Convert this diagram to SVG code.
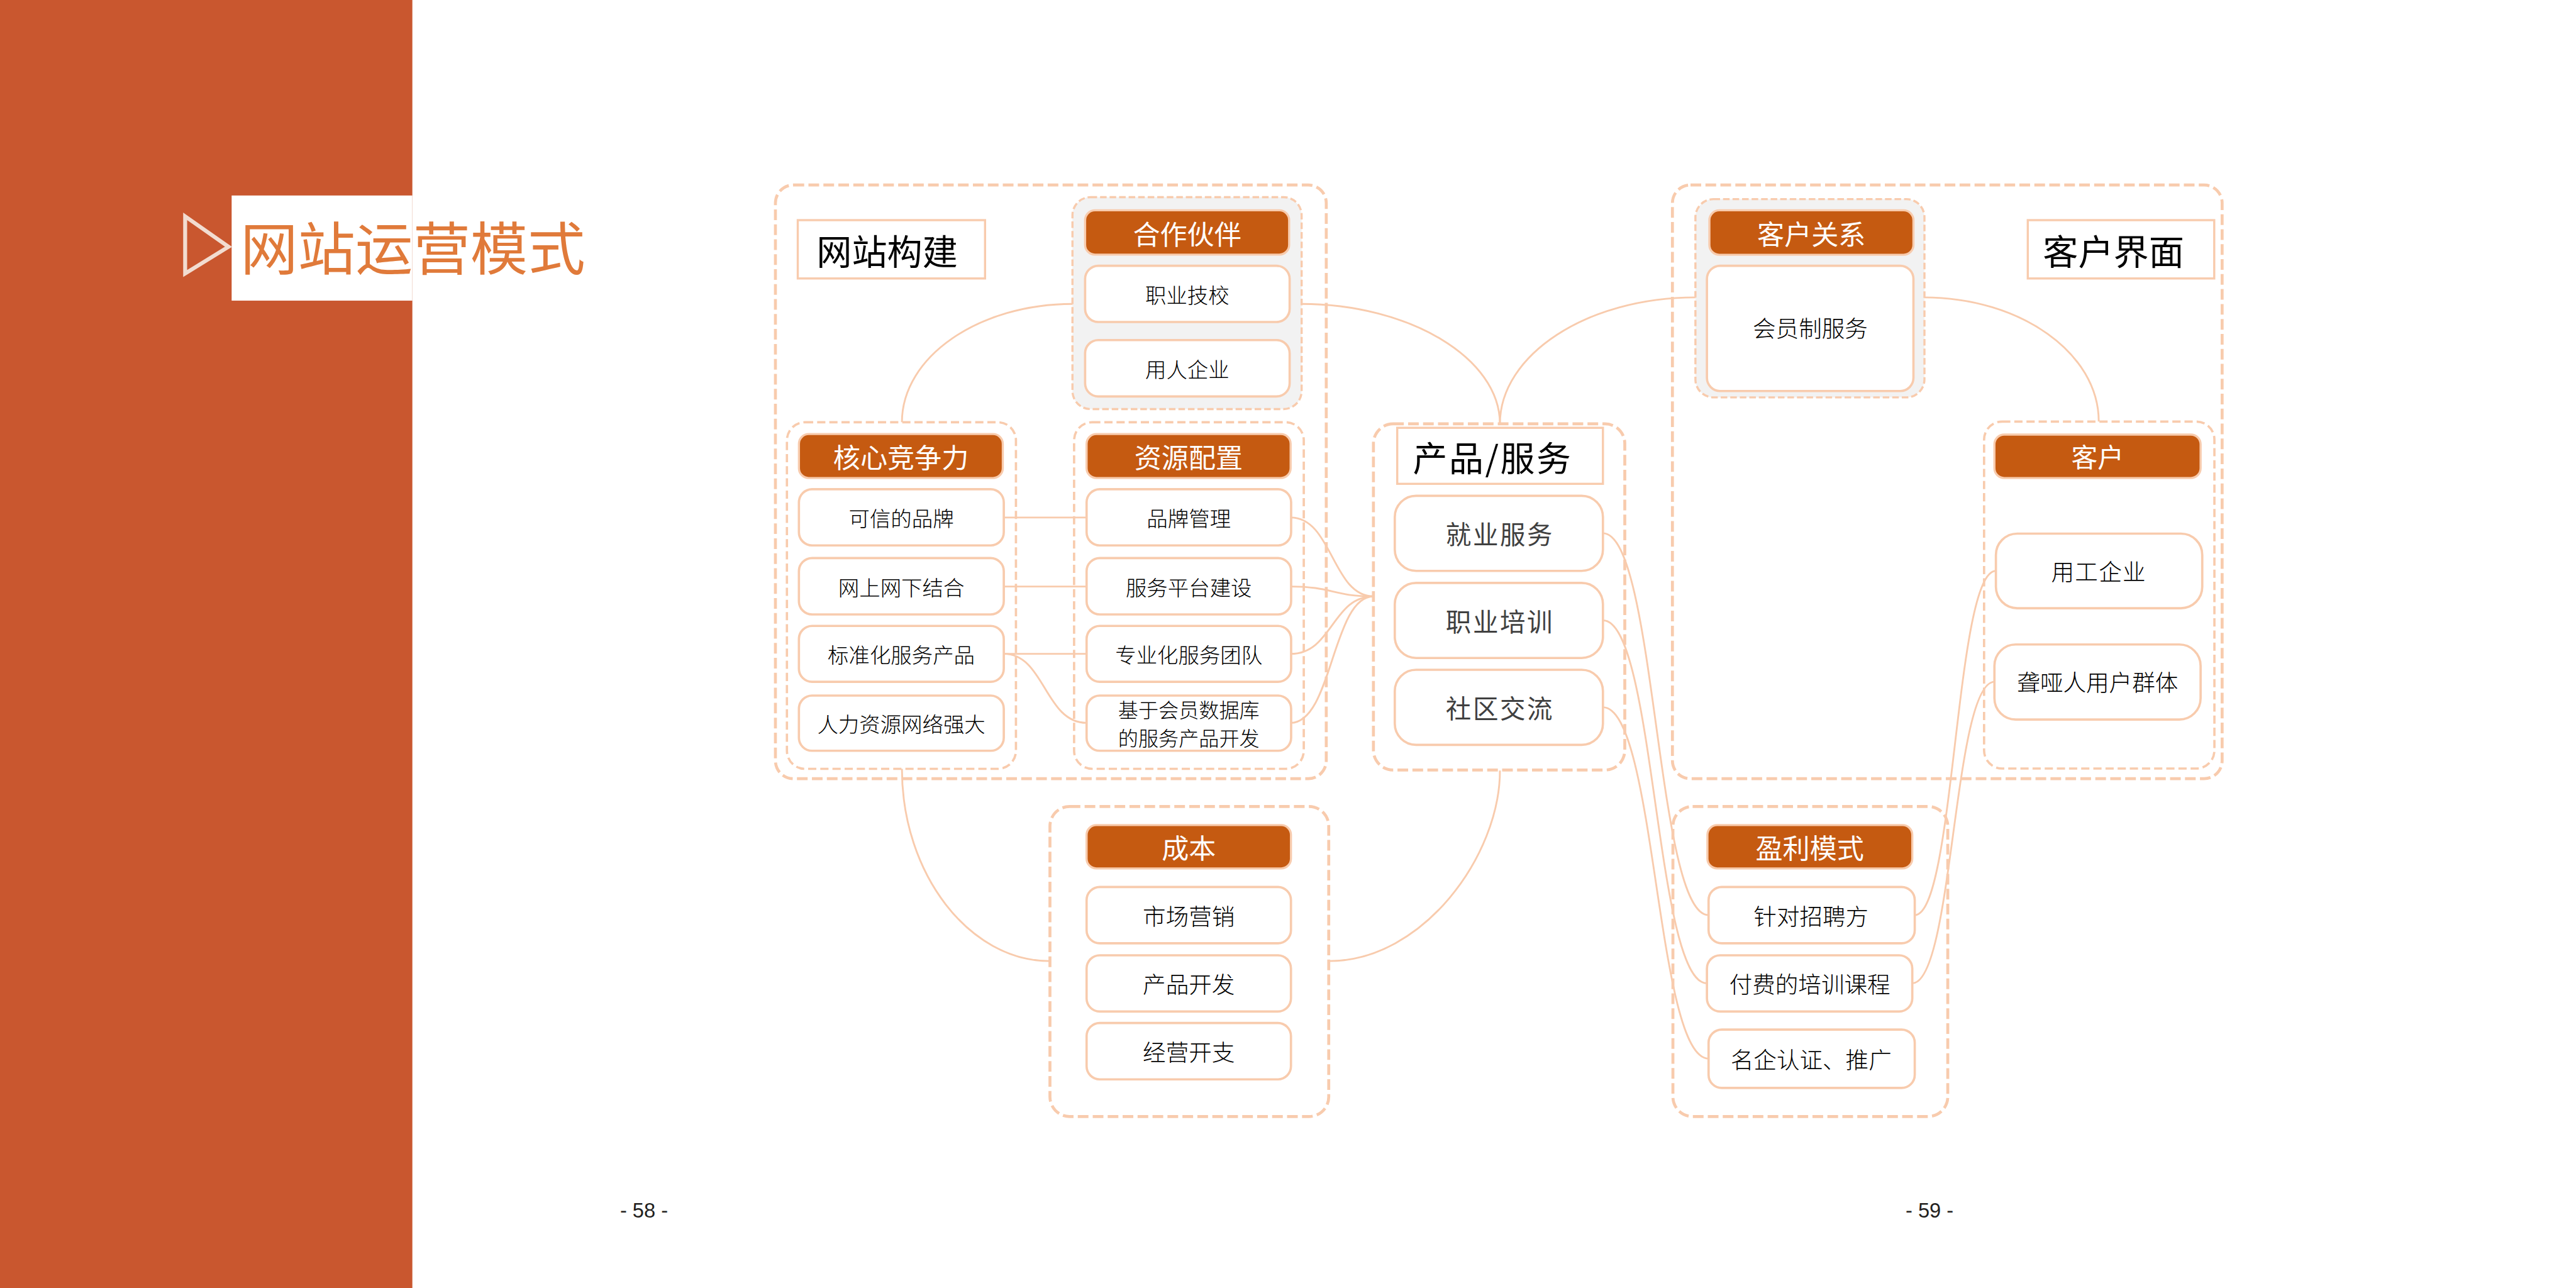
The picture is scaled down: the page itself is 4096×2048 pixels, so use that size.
<svg xmlns="http://www.w3.org/2000/svg" width="4096" height="2048" viewBox="0 0 4096 2048">
<style>
text{font-family:"Noto Sans CJK SC","Noto Sans",sans-serif;}
.outer{fill:none;stroke:#F8CBAD;stroke-width:1.8;stroke-dasharray:6.5 2.6;}
.grp{fill:none;stroke:#F8CBAD;stroke-width:1.4;stroke-dasharray:5 2.4;}
.grpg{fill:#F2F2F2;stroke:#F8CBAD;stroke-width:1.3;stroke-dasharray:4 1.8;}
.hdr{fill:#C55A11;stroke:#F8CBAD;stroke-width:1.3;}
.item{fill:#fff;stroke:#F8CBAD;stroke-width:1.4;}
.lbl{fill:#fff;stroke:#F8CBAD;stroke-width:1.3;}
.conn path{fill:none;stroke:#F8CBAD;stroke-width:1.1;}
.ht{fill:#fff;font-size:16.5px;text-anchor:middle;dominant-baseline:central;}
.it{fill:#000;font-size:12.8px;font-weight:300;text-anchor:middle;dominant-baseline:central;}
.it14{fill:#000;font-size:14px;font-weight:300;text-anchor:middle;dominant-baseline:central;}
.pt{fill:#404040;font-size:15.5px;letter-spacing:1px;text-anchor:middle;dominant-baseline:central;}
.big{fill:#000;font-size:21.5px;dominant-baseline:central;}
.pg{font-family:"Liberation Sans",Arial,sans-serif;fill:#231F20;font-size:12.5px;text-anchor:middle;}
</style>
<rect width="4096" height="2048" fill="#fff"/>
<g transform="scale(2.612245)">
  <g id="sidebar">
    <rect x="0" y="0" width="251" height="784" fill="#C9572F"/>
    <rect x="141" y="119" width="110" height="64" fill="#fff"/>
    <polygon points="112.7,131.7 139.1,150.2 112.7,166.5" fill="none" stroke="#F2DCD0" stroke-width="2.4"/>
    <text x="146.3" y="149" style="font-size:35px;fill:#E07A3A;dominant-baseline:central">网站运营模式</text>
  </g>

  <g id="website-build">
    <rect class="outer" x="472" y="112.6" width="335.3" height="361.4" rx="11"/>
    <rect class="lbl" x="485.6" y="134" width="114" height="35.5"/>
    <text class="big" x="497" y="151.8">网站构建</text>
  </g>
  <g id="customer-interface">
    <rect class="outer" x="1018" y="112.6" width="334.6" height="361.4" rx="11"/>
    <rect class="lbl" x="1234.3" y="134" width="113.5" height="35.5"/>
    <text class="big" x="1243.5" y="151.8">客户界面</text>
  </g>

  <g id="connectors" class="conn">
    <path d="M653,185 C596,185 549,217 549,257"/>
    <path d="M792,185 C858,185 913,218 913,258"/>
    <path d="M1032,181 C966,181 913,216 913,258"/>
    <path d="M1171,181 C1230,181 1277.5,215 1277.5,256.6"/>
    <path d="M549,468 C549,532 590,585 639,585"/>
    <path d="M809,585 C866,585 913,521 913,469"/>
    <path d="M611,315 H661.4"/>
    <path d="M611,357 H661.4"/>
    <path d="M611,398 H661.4"/>
    <path d="M611,398 C636,398 636,440 661.4,440"/>
    <path d="M785.6,315 C811,315 811,363 836,363"/>
    <path d="M785.6,357 C811,357 811,363 836,363"/>
    <path d="M785.6,398 C811,398 811,363 836,363"/>
    <path d="M785.6,440 C811,440 811,363 836,363"/>
    <path d="M975.7,324.6 C1008,324.6 1008,557 1040,557"/>
    <path d="M975.7,377.6 C1007.5,377.6 1007.5,598.5 1039,598.5"/>
    <path d="M975.7,430.5 C1008,430.5 1008,644.4 1040,644.4"/>
    <path d="M1214.9,347.5 C1190,347.5 1190,557 1165.5,557"/>
    <path d="M1214,415 C1189,415 1189,598.5 1164,598.5"/>
  </g>

  <g id="partners">
    <rect class="grpg" x="652.8" y="120" width="139.5" height="129" rx="11"/>
    <rect class="hdr" x="660.5" y="128" width="124.2" height="27" rx="6"/>
    <text class="ht" x="722.6" y="141.5">合作伙伴</text>
    <rect class="item" x="660.5" y="161.8" width="124.5" height="34.2" rx="8"/>
    <text class="it" x="722.7" y="179">职业技校</text>
    <rect class="item" x="660.5" y="207" width="124.5" height="34.3" rx="8"/>
    <text class="it" x="722.7" y="224.2">用人企业</text>
  </g>

  <g id="core-competence">
    <rect class="grp" x="479" y="257" width="139.4" height="211" rx="11"/>
    <rect class="hdr" x="486.3" y="264.2" width="124.1" height="26.8" rx="6"/>
    <text class="ht" x="548.4" y="277.6">核心竞争力</text>
    <rect class="item" x="486.3" y="297.8" width="124.7" height="34.2" rx="8"/>
    <text class="it" x="548.6" y="314.9">可信的品牌</text>
    <rect class="item" x="486.3" y="339.7" width="124.7" height="34.3" rx="8"/>
    <text class="it" x="548.6" y="356.9">网上网下结合</text>
    <rect class="item" x="486.3" y="381" width="124.7" height="34" rx="8"/>
    <text class="it" x="548.6" y="398">标准化服务产品</text>
    <rect class="item" x="486.3" y="423.4" width="124.7" height="33.6" rx="8"/>
    <text class="it" x="548.6" y="440.2">人力资源网络强大</text>
  </g>

  <g id="resources">
    <rect class="grp" x="653.8" y="257" width="139.8" height="211" rx="11"/>
    <rect class="hdr" x="661.4" y="264.2" width="124.2" height="26.8" rx="6"/>
    <text class="ht" x="723.5" y="277.6">资源配置</text>
    <rect class="item" x="661.4" y="297.8" width="124.5" height="34.2" rx="8"/>
    <text class="it" x="723.6" y="314.9">品牌管理</text>
    <rect class="item" x="661.4" y="339.7" width="124.5" height="34.3" rx="8"/>
    <text class="it" x="723.6" y="356.9">服务平台建设</text>
    <rect class="item" x="661.4" y="381" width="124.5" height="34" rx="8"/>
    <text class="it" x="723.6" y="398">专业化服务团队</text>
    <rect class="item" x="661.4" y="423.4" width="124.5" height="33.6" rx="8"/>
    <text class="it" x="723.6" y="431.6" style="font-size:12.3px">基于会员数据库</text>
    <text class="it" x="723.6" y="448.6" style="font-size:12.3px">的服务产品开发</text>
  </g>

  <g id="products-services">
    <rect class="outer" x="836" y="258" width="153" height="210.7" rx="12"/>
    <rect class="lbl" x="850.5" y="260.4" width="125.2" height="34.1"/>
    <text class="big" x="860" y="277.5" style="font-size:21px;letter-spacing:1px">产品/服务</text>
    <rect class="item" x="849" y="301.8" width="126.7" height="45.7" rx="13"/>
    <text class="pt" x="913" y="324.6">就业服务</text>
    <rect class="item" x="849" y="354.8" width="126.7" height="45.7" rx="13"/>
    <text class="pt" x="913" y="377.6">职业培训</text>
    <rect class="item" x="849" y="407.7" width="126.7" height="45.7" rx="13"/>
    <text class="pt" x="913" y="430.5">社区交流</text>
  </g>

  <g id="customer-relations">
    <rect class="grpg" x="1032" y="121.2" width="139.4" height="120.7" rx="11"/>
    <rect class="hdr" x="1040.5" y="128" width="124.2" height="27.1" rx="6"/>
    <text class="ht" x="1102.6" y="141.5">客户关系</text>
    <rect class="item" x="1039" y="161.8" width="125.7" height="76.2" rx="8"/>
    <text class="it14" x="1101.9" y="199.2">会员制服务</text>
  </g>

  <g id="customers">
    <rect class="grp" x="1207.7" y="256.6" width="140.2" height="211.2" rx="11"/>
    <rect class="hdr" x="1214" y="264.5" width="125.5" height="26.5" rx="6"/>
    <text class="ht" x="1276.8" y="277.7" style="font-size:16px">客户</text>
    <rect class="item" x="1214.9" y="324.8" width="125.6" height="45.4" rx="13"/>
    <text class="it14" x="1277.5" y="347.3" style="letter-spacing:0.5px">用工企业</text>
    <rect class="item" x="1214" y="392.3" width="125.5" height="45.7" rx="13"/>
    <text class="it14" x="1276.8" y="414.8">聋哑人用户群体</text>
  </g>

  <g id="cost">
    <rect class="outer" x="639.1" y="490.9" width="169.7" height="188.7" rx="12"/>
    <rect class="hdr" x="661.4" y="502.2" width="124.4" height="26.4" rx="6"/>
    <text class="ht" x="723.6" y="515.4">成本</text>
    <rect class="item" x="661.4" y="539.9" width="124.4" height="34.3" rx="8"/>
    <text class="it14" x="723.6" y="557">市场营销</text>
    <rect class="item" x="661.4" y="581.5" width="124.4" height="34.2" rx="8"/>
    <text class="it14" x="723.6" y="598.6">产品开发</text>
    <rect class="item" x="661.4" y="622.7" width="124.4" height="34.3" rx="8"/>
    <text class="it14" x="723.6" y="639.9">经营开支</text>
  </g>

  <g id="profit-model">
    <rect class="outer" x="1018.3" y="490.9" width="167.3" height="188.7" rx="12"/>
    <rect class="hdr" x="1039.3" y="502.2" width="124.7" height="26.4" rx="6"/>
    <text class="ht" x="1101.6" y="515.4">盈利模式</text>
    <rect class="item" x="1040" y="539.9" width="125.5" height="34.3" rx="8"/>
    <text class="it14" x="1102.4" y="557">针对招聘方</text>
    <rect class="item" x="1039" y="581.5" width="125" height="34.2" rx="8"/>
    <text class="it14" x="1101.6" y="598.6">付费的培训课程</text>
    <rect class="item" x="1040" y="626.7" width="125.5" height="35.5" rx="8"/>
    <text class="it14" x="1102.4" y="644.4">名企认证、推广</text>
  </g>

  <g id="page-numbers">
    <text class="pg" x="392" y="741">- 58 -</text>
    <text class="pg" x="1174.5" y="741">- 59 -</text>
  </g>
</g>
</svg>
